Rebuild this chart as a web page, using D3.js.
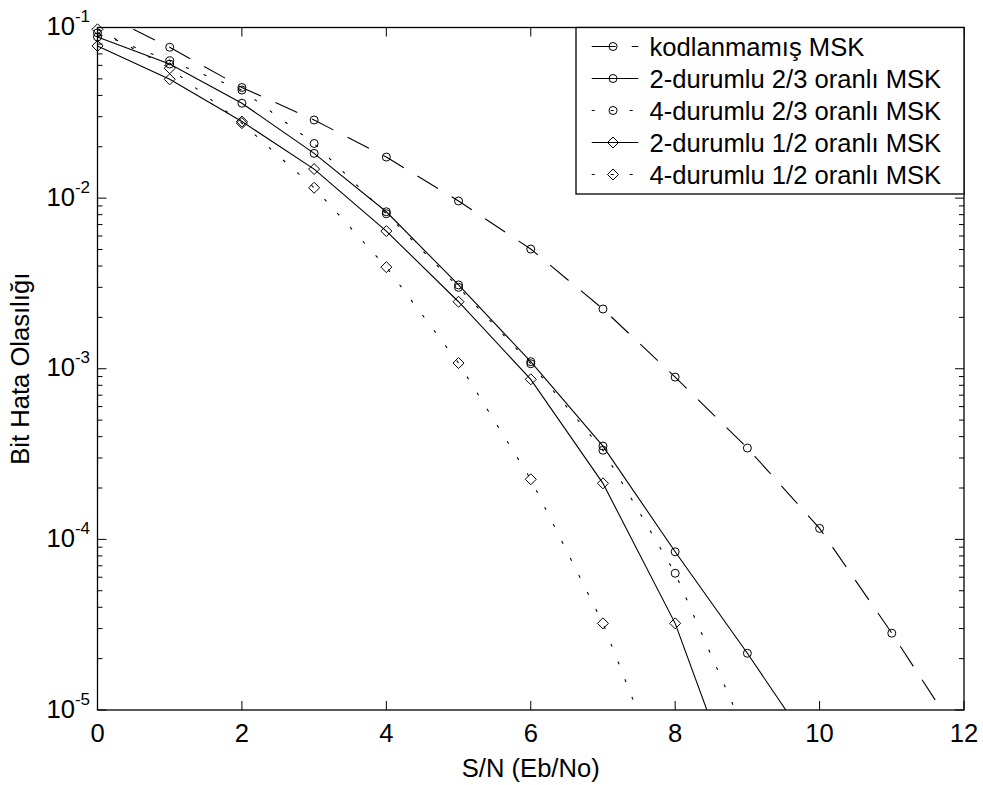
<!DOCTYPE html>
<html>
<head>
<meta charset="utf-8">
<script src="https://cdn.jsdelivr.net/npm/d3@7"></script>
<style>
  html, body { margin: 0; padding: 0; background: #fff; }
  svg { display: block; }
  text { font-family: Arial, "Liberation Sans", Helvetica, sans-serif; fill: #000; }
</style>
</head>
<body>
<svg id="chart" width="983" height="785"></svg>
<script>
// ---- data ----
const snr = [0, 1, 2, 3, 4, 5, 6, 7, 8, 9, 10, 11, 12];
const uncoded     = [0.124, 0.0766, 0.0445, 0.0287, 0.0174, 0.00962, 0.00503, 0.00224, 8.93e-4, 3.43e-4, 1.16e-4, 2.82e-5, 6.3e-6];
const twoState23  = [0.088, 0.0611, 0.0360, 0.0183, 0.00832, 0.00310, 0.00110, 3.52e-4, 8.46e-5, 2.15e-5, 5.1e-6];
const fourState23 = [0.093, 0.0638, 0.0430, 0.0209, 0.0081, 0.00300, 0.00107, 3.33e-4, 6.33e-5, 6.9e-6];
const twoState12  = [0.078, 0.0497, 0.0281, 0.0148, 0.00641, 0.00247, 8.67e-4, 2.13e-4, 3.22e-5, 2.25e-6];
const fourState12 = [0.0976, 0.0577, 0.0275, 0.0115, 0.00394, 0.00108, 2.25e-4, 3.22e-5, 2.7e-6];

const seriesNames = ["kodlanmamış MSK", "2-durumlu 2/3 oranlı MSK", "4-durumlu 2/3 oranlı MSK", "2-durumlu 1/2 oranlı MSK", "4-durumlu 1/2 oranlı MSK"];
const seriesValues = [uncoded, twoState23, fourState23, twoState12, fourState12];
const seriesMarkers = ["circle", "circle", "circle", "diamond", "diamond"];
const seriesDash = ["24,16", null, "3,16", null, "3,16"];

const xTicks = [0, 2, 4, 6, 8, 10, 12];
const yExponents = [-1, -2, -3, -4, -5];
const xLabel = "S/N (Eb/No)";
const yLabel = "Bit Hata Olasılığı";

// ---- layout ----
const L = 97.5, R = 964, T = 27.5, B = 710;
const FS = 25.6;
const svg = d3.select("#chart");
const x = d3.scaleLinear().domain([0, 12]).range([L, R]);
const y = d3.scaleLog().domain([1e-5, 1e-1]).range([B, T]);

svg.append("defs").append("clipPath").attr("id", "plotclip")
  .append("rect").attr("x", L).attr("y", T).attr("width", R - L).attr("height", B - T);

// ---- ticks (inside, on all four sides) ----
const tickG = svg.append("g").attr("stroke", "#000").attr("stroke-width", 1);
xTicks.forEach(v => {
  const px = x(v);
  tickG.append("line").attr("x1", px).attr("x2", px).attr("y1", B).attr("y2", B - 9);
  tickG.append("line").attr("x1", px).attr("x2", px).attr("y1", T).attr("y2", T + 9);
});
const majors = yExponents.map(e => Math.pow(10, e));
const minors = [];
[-5, -4, -3, -2].forEach(e => { for (let m = 2; m <= 9; m++) minors.push(m * Math.pow(10, e)); });
majors.forEach(v => {
  const py = y(v);
  tickG.append("line").attr("x1", L).attr("x2", L + 9).attr("y1", py).attr("y2", py);
  tickG.append("line").attr("x1", R).attr("x2", R - 9).attr("y1", py).attr("y2", py);
});
minors.forEach(v => {
  const py = y(v);
  tickG.append("line").attr("x1", L).attr("x2", L + 5).attr("y1", py).attr("y2", py);
  tickG.append("line").attr("x1", R).attr("x2", R - 5).attr("y1", py).attr("y2", py);
});

// ---- tick labels ----
xTicks.forEach(v => {
  svg.append("text").attr("x", x(v)).attr("y", B + 32).attr("text-anchor", "middle")
    .attr("font-size", FS).text(v);
});
yExponents.forEach(e => {
  const t = svg.append("text").attr("x", 90).attr("y", y(Math.pow(10, e)) + 7.5)
    .attr("text-anchor", "end").attr("font-size", FS);
  t.append("tspan").text("10");
  t.append("tspan").attr("font-size", 17).attr("dy", -13).text("-" + Math.abs(e));
});

// ---- axis labels ----
svg.append("text").attr("x", (L + R) / 2).attr("y", 777).attr("text-anchor", "middle")
  .attr("font-size", FS).text(xLabel);
svg.append("text").attr("transform", `translate(29,${(T + B) / 2}) rotate(-90)`)
  .attr("text-anchor", "middle").attr("font-size", FS).text(yLabel);

// ---- series ----
const line = d3.line().x((d, i) => x(snr[i])).y(d => y(d));
const plotG = svg.append("g");
const linesG = plotG.append("g").attr("clip-path", "url(#plotclip)");
function drawMarker(g, type, cx, cy) {
  if (type === "circle") {
    g.append("circle").attr("cx", cx).attr("cy", cy).attr("r", 4)
      .attr("fill", "none").attr("stroke", "#000").attr("stroke-width", 1);
  } else {
    const s = 5.5;
    g.append("path").attr("d", `M${cx},${cy - s}L${cx + s},${cy}L${cx},${cy + s}L${cx - s},${cy}Z`)
      .attr("fill", "none").attr("stroke", "#000").attr("stroke-width", 1);
  }
}
seriesValues.forEach((vals, k) => {
  const p = linesG.append("path").attr("d", line(vals)).attr("fill", "none")
    .attr("stroke", "#000").attr("stroke-width", 1.1);
  if (seriesDash[k]) p.attr("stroke-dasharray", seriesDash[k]);
  vals.forEach((v, i) => {
    if (v >= 1e-5 && v <= 1e-1) drawMarker(plotG, seriesMarkers[k], x(snr[i]), y(v));
  });
});

// ---- axes box ----
svg.append("rect").attr("x", L).attr("y", T).attr("width", R - L).attr("height", B - T)
  .attr("fill", "none").attr("stroke", "#000").attr("stroke-width", 1.3);

// ---- legend ----
const lg = svg.append("g");
lg.append("rect").attr("x", 576).attr("y", T).attr("width", R - 576).attr("height", 194 - T)
  .attr("fill", "#fff").attr("stroke", "#000").attr("stroke-width", 1.3);
seriesNames.forEach((name, k) => {
  const cy = 46.5 + 32 * k;
  const l = lg.append("line").attr("x1", 591.7).attr("x2", 638.3).attr("y1", cy).attr("y2", cy)
    .attr("stroke", "#000").attr("stroke-width", 1.1);
  if (seriesDash[k]) l.attr("stroke-dasharray", seriesDash[k]);
  drawMarker(lg, seriesMarkers[k], 613, cy);
  lg.append("text").attr("x", 649.5).attr("y", cy + 9).attr("font-size", FS).text(name);
});
</script>
</body>
</html>
